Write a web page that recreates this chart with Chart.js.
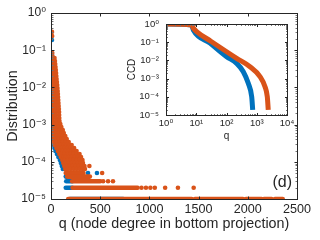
<!DOCTYPE html>
<html>
<head>
<meta charset="utf-8">
<script src="https://cdn.jsdelivr.net/npm/chart.js"></script>
<style>
  body { margin: 0; background: #fff; overflow: hidden; }
  #wrap { position: relative; width: 320px; height: 240px; }
  canvas { position: absolute; left: 0; top: 0; }
</style>
</head>
<body>
<div id="wrap">
  <canvas id="main" width="320" height="240"></canvas>
  <canvas id="inset" width="320" height="240"></canvas>
</div>
<script>
const ORANGE = "#D95319";
const BLUE = "#0072BD";
const TXT = "#262626";
const FONT = "'Liberation Sans', 'DejaVu Sans', Arial, sans-serif";

// main plot, steep part: P levels and the q values seen at each level
const orangeBandP = [0.31, 0.24, 0.084, 0.07,
  0.0617, 0.0513, 0.0426, 0.0353, 0.0294, 0.0244, 0.0202, 0.0168, 0.0140, 0.0116,
  0.00964, 0.0080, 0.00665, 0.00552, 0.00458, 0.00381, 0.00316, 0.00263, 0.00218, 0.00181,
  0.0015, 0.00125, 0.00104, 0.000862, 0.000716, 0.000594, 0.000494, 0.00041, 0.000341, 0.000283,
  0.000235, 0.000195, 0.000162, 0.000135, 0.000112, 0.0000929, 0.0000771, 0.0000641];
const orangeBandQ = [
  [10], [12], [13], [14],
  [8, 22, 36], [8, 24, 40], [9, 26, 43], [9, 28, 46], [10, 30, 49], [10, 31, 52],
  [11, 33, 54], [11, 34, 57], [12, 36, 60], [12, 38, 63], [13, 40, 66], [13, 41, 68],
  [14, 42, 70], [14, 44, 72], [15, 45, 74], [15, 46, 76], [16, 47, 78], [16, 48, 80],
  [17, 50, 82], [18, 50, 83], [19, 52, 84], [20, 53, 86], [20, 45, 70, 95], [21, 50, 78, 105],
  [22, 55, 88, 120], [23, 50, 78, 105, 130], [25, 55, 85, 115, 145], [27, 55, 80, 105, 130, 160],
  [32, 60, 90, 120, 150, 180], [38, 65, 95, 125, 155, 185, 210], [55, 80, 105, 135, 165, 195, 235],
  [70, 95, 120, 150, 180, 210, 235, 260], [85, 110, 140, 170, 200, 230, 260, 290],
  [100, 125, 150, 180, 210, 240, 270, 305], [115, 140, 170, 200, 230, 260, 290, 320],
  [125, 150, 180, 210, 240, 270, 300, 325], [135, 160, 190, 220, 250, 280, 310, 340, 390],
  [145, 170, 200, 230, 260, 290, 320, 345]
];
const blueBandP = [0.188, 0.074, 0.06, 0.0294, 0.0116, 0.00458, 0.0018, 0.00072, 0.00041,
  0.000283, 0.000235, 0.000195, 0.000162, 0.000135, 0.000112, 0.0000929, 0.0000771, 0.0000641];
const blueBandQ = [
  [10], [10], [12], [10, 20], [11, 25], [12, 30], [15, 40], [20, 50], [25, 55],
  [30, 50], [35, 50], [45, 60], [60, 75], [75, 90], [90, 105], [100, 115], [110, 125], [120, 135]
];

// count rows (P = k/N): dense runs [P, qStart, qEnd] and single dots [P, q]
const orangeRuns = [[1e-5, 175, 1430], [1e-5, 1463, 1951], [1e-5, 1981, 2140], [1e-5, 2164, 2242],
  [1e-5, 2276, 2355], [2e-5, 220, 880], [3e-5, 215, 500], [4e-5, 165, 395], [5e-5, 150, 330]];
const orangeDots = [[2e-5, 920], [2e-5, 965], [2e-5, 1010], [2e-5, 1055], [2e-5, 1160],
  [2e-5, 1290], [2e-5, 1450], [3e-5, 530], [3e-5, 580], [3e-5, 630], [5e-5, 520]];
const blueRuns = [[1e-5, 190, 735], [2e-5, 150, 215], [3e-5, 155, 215], [4e-5, 150, 190]];
const blueDots = [[5e-5, 376], [5e-5, 467]];

// inset: complementary cumulative distribution
const ccdOrangeQ = [1, 7, 8, 10.3, 28.5, 217, 598, 1280, 1875, 2233, 2400];
const ccdOrangeC = [1, 0.88, 0.6, 0.38, 0.121, 0.013, 0.0045, 0.0013, 0.00036, 0.0001, 0.000019];
const ccdBlueQ = [1, 7, 8, 28.5, 101, 217, 359, 525, 681, 735];
const ccdBlueC = [1, 0.88, 0.47, 0.09, 0.016, 0.0069, 0.0024, 0.00055, 0.0001, 0.000019];

const mainXTicks = [0, 500, 1000, 1500, 2000, 2500];
const mainYTicks = [1e-5, 1e-4, 1e-3, 1e-2, 1e-1, 1];
const insetXTicks = [1, 10, 100, 1000, 10000];
const insetYTicks = [1e-5, 1e-4, 1e-3, 1e-2, 1e-1, 1];

const SUP = { "-": "\u207B", "0": "\u2070", "1": "\u00B9", "2": "\u00B2", "3": "\u00B3", "4": "\u2074", "5": "\u2075" };
function powLabel(v) {
    const e = String(Math.round(Math.log10(v)));
    return "10" + e.split("").map(c => SUP[c]).join("");
}

function logMinors(lo, hi) {
    const out = [];
    for (let d = lo; d < hi; d++) {
        for (let m = 2; m <= 9; m++) out.push(m * Math.pow(10, d));
    }
    return out;
}

function bandPoints(levels, qs) {
    const pts = [];
    levels.forEach((p, i) => qs[i].forEach(q => pts.push({ x: q, y: p })));
    return pts;
}

function dotSet(dots, color, order) {
    return {
        data: dots.map(d => ({ x: d[1], y: d[0] })),
        pointBackgroundColor: color, pointBorderWidth: 0, pointRadius: 2.3, order: order
    };
}

function runSets(runs, color, order) {
    return runs.map(r => ({
        data: [{ x: r[1], y: r[0] }, { x: r[2], y: r[0] }],
        showLine: true, borderColor: color, borderWidth: 4.6, borderCapStyle: "round",
        pointRadius: 0, order: order
    }));
}

// box round the axes with inward ticks on all four sides
function framePlugin(cfg) {
    return {
        id: "frame",
        afterDatasetsDraw(chart) {
            const { ctx, chartArea: a } = chart;
            const sx = chart.scales.x, sy = chart.scales.y;
            const L = Math.round(a.left) + 0.5, R = Math.round(a.right) + 0.5;
            const T = Math.round(a.top) + 0.5, B = Math.round(a.bottom) + 0.5;
            ctx.save();
            ctx.lineWidth = 1;
            const xt = (v, len) => {
                const px = Math.round(sx.getPixelForValue(v)) + 0.5;
                ctx.moveTo(px, B); ctx.lineTo(px, B - len);
                ctx.moveTo(px, T); ctx.lineTo(px, T + len);
            };
            const yt = (v, len) => {
                const py = Math.round(sy.getPixelForValue(v)) + 0.5;
                ctx.moveTo(L, py); ctx.lineTo(L + len, py);
                ctx.moveTo(R, py); ctx.lineTo(R - len, py);
            };
            ctx.strokeStyle = "#777";
            ctx.beginPath();
            cfg.xMinor.forEach(v => xt(v, cfg.minor));
            cfg.yMinor.forEach(v => yt(v, cfg.minor));
            ctx.stroke();
            ctx.strokeStyle = TXT;
            ctx.beginPath();
            cfg.xMajor.forEach(v => xt(v, cfg.major));
            cfg.yMajor.forEach(v => yt(v, cfg.major));
            ctx.stroke();
            ctx.strokeRect(L, T, R - L, B - T);
            ctx.restore();
        }
    };
}

const whiteBg = {
    id: "whiteBg",
    beforeDraw(chart) {
        const ctx = chart.ctx;
        ctx.save();
        ctx.fillStyle = "#fff";
        ctx.fillRect(0, 0, chart.width, chart.height);
        ctx.restore();
    }
};

const insetBg = {
    id: "insetBg",
    beforeDatasetsDraw(chart) {
        const { ctx, chartArea: a } = chart;
        ctx.save();
        ctx.fillStyle = "#fff";
        ctx.fillRect(a.left, a.top, a.right - a.left + 1, a.bottom - a.top + 1);
        ctx.restore();
    }
};

const panelTag = {
    id: "panelTag",
    afterDraw(chart) {
        const ctx = chart.ctx;
        ctx.save();
        ctx.font = "16px " + FONT;
        ctx.fillStyle = TXT;
        ctx.textAlign = "right";
        ctx.textBaseline = "alphabetic";
        ctx.fillText("(d)", 292, 187);
        ctx.restore();
    }
};

function axis(type, min, max, tickVals, fontSize, pad, title, titleSize, titlePad, fit) {
    return {
        type: type, min: min, max: max,
        afterBuildTicks: s => { s.ticks = tickVals.map(v => ({ value: v })); },
        afterFit: fit,
        grid: { display: false, drawTicks: false },
        border: { display: false },
        ticks: {
            color: TXT, font: { family: FONT, size: fontSize }, padding: pad,
            maxRotation: 0, autoSkip: false,
            callback: v => type === "logarithmic" ? powLabel(v) : String(v)
        },
        title: { display: true, text: title, color: TXT, font: { family: FONT, size: titleSize }, padding: titlePad }
    };
}

new Chart(document.getElementById("main"), {
    type: "scatter",
    data: {
        datasets: [
            { data: bandPoints(orangeBandP, orangeBandQ), pointBackgroundColor: ORANGE, pointBorderWidth: 0, pointRadius: 2.3, order: 1 },
            dotSet(orangeDots, ORANGE, 1),
            ...runSets(orangeRuns, ORANGE, 1),
            { data: bandPoints(blueBandP, blueBandQ), pointBackgroundColor: BLUE, pointBorderWidth: 0, pointRadius: 2.3, order: 2 },
            dotSet(blueDots, BLUE, 2),
            ...runSets(blueRuns, BLUE, 2)
        ]
    },
    options: {
        responsive: false, animation: false, events: [],
        layout: { padding: { left: 0, right: 23, top: 13, bottom: 0 } },
        plugins: { legend: { display: false }, tooltip: { enabled: false } },
        scales: {
            x: axis("linear", 0, 2500, mainXTicks, 12.6, 3, "q (node degree in bottom projection)", 14.3,
                { top: 0, bottom: 7.6 }, s => { s.height = 41; }),
            y: axis("logarithmic", 1e-5, 1, mainYTicks, 12, 5, "Distribution", 14.3,
                { top: 4.4, bottom: 0 }, s => { s.width = 51; })
        }
    },
    plugins: [whiteBg, framePlugin({ xMajor: mainXTicks, xMinor: [], yMajor: mainYTicks, yMinor: logMinors(-5, 0), major: 3, minor: 2 }), panelTag]
});

new Chart(document.getElementById("inset"), {
    type: "scatter",
    data: {
        datasets: [
            { data: ccdOrangeQ.map((q, i) => ({ x: q, y: ccdOrangeC[i] })), showLine: true, borderColor: ORANGE,
              borderWidth: 5, pointRadius: 0, cubicInterpolationMode: "monotone", order: 1 },
            { data: ccdBlueQ.map((q, i) => ({ x: q, y: ccdBlueC[i] })), showLine: true, borderColor: BLUE,
              borderWidth: 5, pointRadius: 0, cubicInterpolationMode: "monotone", order: 2 }
        ]
    },
    options: {
        responsive: false, animation: false, events: [],
        layout: { padding: { left: 126, right: 33, top: 24, bottom: 95 } },
        plugins: { legend: { display: false }, tooltip: { enabled: false } },
        scales: {
            x: axis("logarithmic", 1, 10000, insetXTicks, 9.5, 2.5, "q", 10, { top: 0, bottom: 3 }, s => { s.height = 30; }),
            y: axis("logarithmic", 1e-5, 1, insetYTicks, 9.5, 7, "CCD", 10, { top: 0.5, bottom: 0 }, s => { s.width = 40; })
        }
    },
    plugins: [insetBg, framePlugin({ xMajor: insetXTicks, xMinor: logMinors(0, 4), yMajor: insetYTicks, yMinor: logMinors(-5, 0), major: 2.5, minor: 1.5 })]
});
</script>
</body>
</html>
